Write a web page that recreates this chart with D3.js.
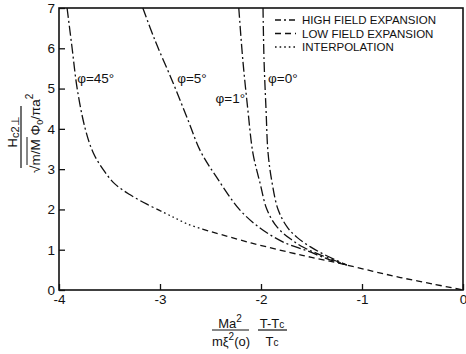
<!DOCTYPE html>
<html>
<head>
<meta charset="utf-8">
<script src="https://cdn.jsdelivr.net/npm/d3@7"></script>
<style>
  body { margin: 0; background: #fff; }
  text { font-family: "Liberation Sans", Arial, sans-serif; fill: #111; }
</style>
</head>
<body>
<div id="chart"></div>
<script>
// tick values
const xTicks = [-4, -3, -2, -1, 0];
const yTicks = [0, 1, 2, 3, 4, 5, 6, 7];

// curves: [x, y]
const phi45High = [[-3.92, 7.0], [-3.87, 6.0], [-3.82, 5.0], [-3.74, 4.0], [-3.66, 3.4], [-3.56, 2.98], [-3.45, 2.64], [-3.30, 2.37], [-3.13, 2.13], [-3.0, 1.97]];
const phi45Interp = [[-3.0, 1.97], [-2.87, 1.81], [-2.72, 1.63], [-2.58, 1.51]];
const lowField = [[-2.58, 1.51], [-2.1, 1.17], [-1.71, 0.93], [-1.5, 0.81], [-1.22, 0.66], [-0.9, 0.47], [-0.62, 0.31], [-0.3, 0.15], [0, 0]];
const phi5 = [[-3.17, 7.0], [-3.05, 6.2], [-2.87, 5.14], [-2.72, 4.2], [-2.6, 3.45], [-2.44, 2.8], [-2.21, 1.99], [-2.01, 1.54], [-1.78, 1.19], [-1.54, 0.97], [-1.35, 0.78], [-1.15, 0.62]];
const phi1 = [[-2.22, 7.0], [-2.18, 5.71], [-2.13, 4.47], [-2.08, 3.4], [-2.01, 2.66], [-1.94, 1.99], [-1.84, 1.56], [-1.71, 1.27], [-1.58, 1.06], [-1.42, 0.88], [-1.15, 0.62]];
const phi0 = [[-1.98, 7.0], [-1.97, 5.71], [-1.95, 4.47], [-1.93, 3.4], [-1.89, 2.66], [-1.83, 1.99], [-1.74, 1.56], [-1.64, 1.3], [-1.51, 1.07], [-1.35, 0.85], [-1.15, 0.62]];

// curve labels
const phiLabels = [
  { text: 'φ=45°', x: -3.82, y: 5.15 },
  { text: 'φ=5°', x: -2.83, y: 5.15 },
  { text: 'φ=1°', x: -2.45, y: 4.65 },
  { text: 'φ=0°', x: -1.93, y: 5.15 }
];
const legendItems = ['HIGH FIELD EXPANSION', 'LOW FIELD EXPANSION', 'INTERPOLATION'];

const width = 466, height = 354;
const plotLeft = 59, plotRight = 463, plotTop = 8, plotBottom = 290;

const svg = d3.select('#chart').append('svg')
  .attr('width', width)
  .attr('height', height);

const x = d3.scaleLinear().domain([-4, 0]).range([plotLeft, plotRight]);
const y = d3.scaleLinear().domain([0, 7]).range([plotBottom, plotTop]);

const dashDot = '10,3,2,3';
const dashed = '6,4';
const dotted = '1.6,3';

// frame
svg.append('rect')
  .attr('x', plotLeft).attr('y', plotTop)
  .attr('width', plotRight - plotLeft).attr('height', plotBottom - plotTop)
  .attr('fill', 'none').attr('stroke', '#111').attr('stroke-width', 1.6);

// x axis, ticks pointing inward
const xAxis = svg.append('g')
  .attr('transform', `translate(0, ${plotBottom})`)
  .call(d3.axisBottom(x).tickValues(xTicks).tickSizeInner(-6).tickSizeOuter(0).tickPadding(4)
    .tickFormat(d => d === 0 ? '0' : '-' + Math.abs(d)));
xAxis.select('.domain').remove();
xAxis.selectAll('line').attr('stroke', '#111').attr('stroke-width', 1.3);
xAxis.selectAll('text').style('font-size', '13.5px').attr('fill', '#111');

// y axis
const yAxis = svg.append('g')
  .attr('transform', `translate(${plotLeft}, 0)`)
  .call(d3.axisLeft(y).tickValues(yTicks).tickSizeInner(-6).tickSizeOuter(0).tickPadding(4)
    .tickFormat(d3.format('d')));
yAxis.select('.domain').remove();
yAxis.selectAll('line').attr('stroke', '#111').attr('stroke-width', 1.3);
yAxis.selectAll('text').style('font-size', '13.5px').attr('fill', '#111');

const line = d3.line()
  .x(d => x(d[0]))
  .y(d => y(d[1]))
  .curve(d3.curveCatmullRom);

function drawCurve(data, dash) {
  svg.append('path')
    .datum(data)
    .attr('d', line)
    .attr('fill', 'none')
    .attr('stroke', '#111')
    .attr('stroke-width', 1.3)
    .attr('stroke-dasharray', dash);
}

drawCurve(phi45High, dashDot);
drawCurve(phi45Interp, dotted);
drawCurve(lowField, dashed);
drawCurve(phi5, dashDot);
drawCurve(phi1, dashDot);
drawCurve(phi0, dashDot);

// phi labels
svg.selectAll('.phi')
  .data(phiLabels)
  .enter()
  .append('text')
  .attr('class', 'phi')
  .attr('x', d => x(d.x))
  .attr('y', d => y(d.y))
  .style('font-size', '13.5px')
  .text(d => d.text);

// legend
const legendDash = [dashDot, dashed, dotted];
legendItems.forEach((t, i) => {
  const ly = 20 + i * 13.5;
  svg.append('line')
    .attr('x1', 275).attr('x2', 296)
    .attr('y1', ly).attr('y2', ly)
    .attr('stroke', '#111').attr('stroke-width', 1.3)
    .attr('stroke-dasharray', i === 0 ? '6,3,2,3' : legendDash[i]);
  svg.append('text')
    .attr('x', 302).attr('y', ly + 4)
    .style('font-size', '11.5px')
    .text(t);
});

// x axis label: two fractions
const xl = svg.append('g');
xl.append('text').attr('x', 230).attr('y', 328).attr('text-anchor', 'middle').style('font-size', '13px')
  .html('Ma<tspan dy="-6" font-size="10">2</tspan>');
xl.append('line').attr('x1', 212).attr('x2', 249).attr('y1', 330).attr('y2', 330).attr('stroke', '#111').attr('stroke-width', 1.2);
xl.append('text').attr('x', 231).attr('y', 346).attr('text-anchor', 'middle').style('font-size', '13px')
  .html('mξ<tspan dy="-6" font-size="10">2</tspan><tspan dy="6">(o)</tspan>');
xl.append('text').attr('x', 272).attr('y', 328).attr('text-anchor', 'middle').style('font-size', '13px')
  .html('T-T<tspan font-size="10">c</tspan>');
xl.append('line').attr('x1', 258).attr('x2', 287).attr('y1', 330).attr('y2', 330).attr('stroke', '#111').attr('stroke-width', 1.2);
xl.append('text').attr('x', 272).attr('y', 346).attr('text-anchor', 'middle').style('font-size', '13px')
  .html('T<tspan font-size="10">c</tspan>');

// y axis label: rotated fraction
const yl = svg.append('g').attr('transform', 'translate(0, 132) rotate(-90)');
yl.append('text').attr('x', 0).attr('y', 17).attr('text-anchor', 'middle').style('font-size', '13px')
  .html('H<tspan font-size="11" dy="2">c2⊥</tspan>');
yl.append('line').attr('x1', -36).attr('x2', 26).attr('y1', 21).attr('y2', 21).attr('stroke', '#111').attr('stroke-width', 1.2);
yl.append('text').attr('x', -41).attr('y', 40).style('font-size', '13.5px')
  .html('√<tspan>m/M</tspan> Φ<tspan font-size="9" dy="3">0</tspan><tspan dy="-3">/πa</tspan><tspan font-size="10" dy="-7">2</tspan>');
// vinculum over m/M
yl.append('line').attr('x1', -33).attr('x2', -5).attr('y1', 27).attr('y2', 27).attr('stroke', '#111').attr('stroke-width', 1);
</script>
</body>
</html>
